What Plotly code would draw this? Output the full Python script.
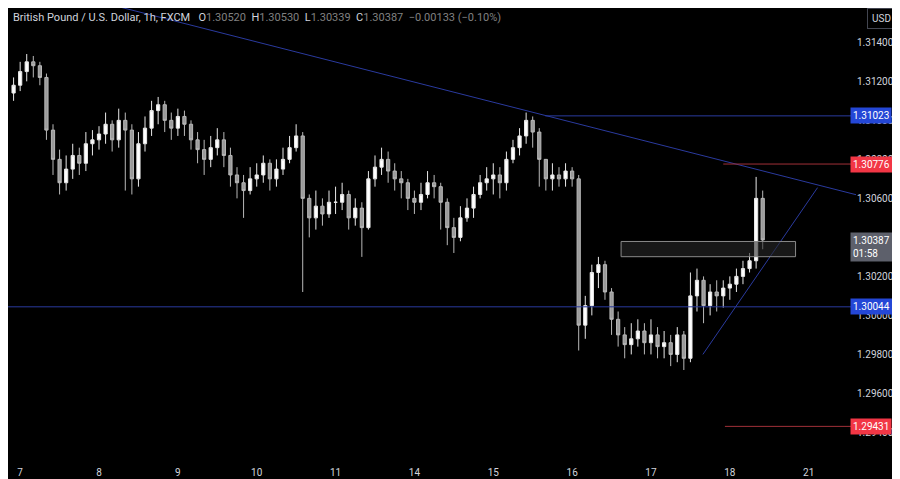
import plotly.graph_objects as go

# 2-hour candles, x = trading hours since the 7th (weekend removed)
closes = [1.3118,
    1.3125, 1.3130, 1.3128, 1.3122, 1.3095, 1.3080, 1.3068, 1.3075, 1.3082, 1.3078, 1.3088, 1.3090,
    1.3093, 1.3098, 1.3090, 1.3100, 1.3095, 1.3070, 1.3088, 1.3096, 1.3105, 1.3108, 1.3100, 1.3096,
    1.3102, 1.3098, 1.3090, 1.3085, 1.3080, 1.3086, 1.3090, 1.3082, 1.3072, 1.3068, 1.3064, 1.3070,
    1.3072, 1.3078, 1.3070, 1.3075, 1.3080, 1.3086, 1.3092, 1.3060, 1.3050, 1.3056, 1.3052, 1.3058,
    1.3058, 1.3062, 1.3050, 1.3055, 1.3045, 1.3070, 1.3076, 1.3080, 1.3074, 1.3070, 1.3068, 1.3060,
    1.3058, 1.3062, 1.3068, 1.3066, 1.3058, 1.3045, 1.3040, 1.3050, 1.3055, 1.3062, 1.3068, 1.3070,
    1.3072, 1.3068, 1.3080, 1.3086, 1.3092, 1.3100, 1.3094, 1.3080, 1.3070, 1.3072, 1.3070, 1.3074,
    1.3070, 1.2995, 1.3005, 1.3022, 1.3026, 1.3012, 1.2998, 1.2990, 1.2985, 1.2988, 1.2992, 1.2986,
    1.2990, 1.2984, 1.2986, 1.2980, 1.2990, 1.2978, 1.3010, 1.3018, 1.3005, 1.3012, 1.3010, 1.3014,
    1.3016, 1.3020, 1.3024, 1.3028, 1.3060, 1.30387]
highs = [1.3122,
    1.3130, 1.3134, 1.3133, 1.3130, 1.3124, 1.3098, 1.3085, 1.3082, 1.3088, 1.3086, 1.3094, 1.3095,
    1.3097, 1.3104, 1.3100, 1.3106, 1.3104, 1.3098, 1.3094, 1.3102, 1.3110, 1.3112, 1.3110, 1.3104,
    1.3106, 1.3105, 1.3100, 1.3094, 1.3090, 1.3092, 1.3096, 1.3094, 1.3086, 1.3076, 1.3072, 1.3076,
    1.3078, 1.3082, 1.3080, 1.3080, 1.3086, 1.3092, 1.3098, 1.3094, 1.3062, 1.3064, 1.3060, 1.3064,
    1.3066, 1.3068, 1.3064, 1.3060, 1.3058, 1.3074, 1.3082, 1.3086, 1.3084, 1.3078, 1.3074, 1.3070,
    1.3064, 1.3068, 1.3074, 1.3072, 1.3068, 1.3060, 1.3050, 1.3056, 1.3060, 1.3066, 1.3072, 1.3076,
    1.3078, 1.3076, 1.3084, 1.3090, 1.3096, 1.3104, 1.3102, 1.3096, 1.3080, 1.3078, 1.3076, 1.3078,
    1.3076, 1.3072, 1.3010, 1.3026, 1.3030, 1.3028, 1.3014, 1.3002, 1.2994, 1.2996, 1.2998, 1.2996,
    1.2998, 1.2994, 1.2992, 1.2990, 1.2994, 1.2992, 1.3022, 1.3024, 1.3020, 1.3016, 1.3018, 1.3018,
    1.3020, 1.3024, 1.3028, 1.3032, 1.3071, 1.3064]
lows = [1.3110,
    1.3115, 1.3120, 1.3122, 1.3118, 1.3090, 1.3072, 1.3062, 1.3064, 1.3070, 1.3072, 1.3074, 1.3082,
    1.3085, 1.3088, 1.3084, 1.3086, 1.3064, 1.3062, 1.3066, 1.3084, 1.3092, 1.3098, 1.3094, 1.3090,
    1.3092, 1.3092, 1.3085, 1.3078, 1.3072, 1.3076, 1.3082, 1.3076, 1.3066, 1.3060, 1.3050, 1.3062,
    1.3066, 1.3068, 1.3064, 1.3066, 1.3072, 1.3078, 1.3084, 1.3012, 1.3040, 1.3044, 1.3046, 1.3050,
    1.3052, 1.3054, 1.3044, 1.3046, 1.3030, 1.3044, 1.3066, 1.3072, 1.3068, 1.3064, 1.3060, 1.3054,
    1.3052, 1.3054, 1.3060, 1.3060, 1.3044, 1.3036, 1.3032, 1.3038, 1.3048, 1.3050, 1.3060, 1.3064,
    1.3062, 1.3060, 1.3064, 1.3078, 1.3082, 1.3088, 1.3086, 1.3066, 1.3064, 1.3064, 1.3066, 1.3066,
    1.3066, 1.2982, 1.2988, 1.3000, 1.3014, 1.3008, 1.2990, 1.2984, 1.2978, 1.2980, 1.2984, 1.2980,
    1.2980, 1.2978, 1.2978, 1.2974, 1.2976, 1.2972, 1.2976, 1.3002, 1.2996, 1.3000, 1.3002, 1.3004,
    1.3008, 1.3012, 1.3016, 1.3022, 1.3024, 1.30339]
opens = [1.3114] + closes[:-1]
hours = [-2 + 2 * i for i in range(len(closes))]

day_ticks = [0, 24, 48, 72, 96, 120, 144, 168, 192, 216, 240]
day_labels = ["7", "8", "9", "10", "11", "14", "15", "16", "17", "18", "21"]
price_ticks = [1.2940, 1.2960, 1.2980, 1.3000, 1.3020, 1.3040, 1.3060, 1.3080, 1.3100, 1.3120, 1.3140]

BLUE = "#2a3a9e"
RED = "#f23645"
TXT = "#d1d4dc"
DARKRED = "#a03038"

fig = go.Figure(go.Candlestick(
    x=hours, open=opens, high=highs, low=lows, close=closes,
    increasing=dict(line=dict(color="#e8e8e8", width=1), fillcolor="#ffffff"),
    decreasing=dict(line=dict(color="#b8b8b8", width=1), fillcolor="#9a9a9a"),
    whiskerwidth=0, showlegend=False, hoverinfo="skip",
))

lines = [
    (22.2, 1.31616, 254.6, 1.30618, BLUE),   # falling trendline
    (207.8, 1.2980, 242.7, 1.30655, BLUE),   # rising trendline
    (159.8, 1.31023, 254.4, 1.31023, BLUE),
    (-3.7, 1.30044, 254.4, 1.30044, BLUE),
    (214.0, 1.30776, 254.4, 1.30776, DARKRED),
    (214.5, 1.29431, 254.4, 1.29431, DARKRED),
]
for x0, y0, x1, y1, c in lines:
    fig.add_shape(type="line", x0=x0, y0=y0, x1=x1, y1=y1, line=dict(color=c, width=1))

fig.add_shape(type="rect", x0=182.9, x1=236.0, y0=1.30301, y1=1.30379,
              line=dict(color="#8a8a8a", width=1), fillcolor="rgba(40,40,40,0.6)")

labels = [(1.31023, "1.31023", "#2447d6"), (1.30776, "1.30776", RED),
          (1.30044, "1.30044", "#2447d6"), (1.29431, "1.29431", RED),
          (1.30352, "1.30387<br>01:58", "#5d606b")]
for y, t, c in labels:
    fig.add_annotation(x=1.0, xref="paper", y=y, yref="y", text=t, showarrow=False,
                       xanchor="left", xshift=-6, bgcolor=c, font=dict(color="white", size=10),
                       borderpad=2, align="left")

fig.add_annotation(x=0.003, y=0.998, xref="paper", yref="paper", xanchor="left", yanchor="top",
                   showarrow=False, font=dict(color=TXT, size=11),
                   text="British Pound / U.S. Dollar, 1h, FXCM   "
                        "O<span style='color:#808080'>1.30520</span>  "
                        "H<span style='color:#808080'>1.30530</span>  "
                        "L<span style='color:#808080'>1.30339</span>  "
                        "C<span style='color:#808080'>1.30387</span>  "
                        "<span style='color:#808080'>−0.00133 (−0.10%)</span>")
fig.add_annotation(x=1.03, y=1.0, xref="paper", yref="paper", xanchor="center", yanchor="top",
                   showarrow=False, text="USD", font=dict(color=TXT, size=10),
                   bordercolor="#434651", borderwidth=1, borderpad=4)

fig.update_layout(
    width=900, height=479, margin=dict(l=0, r=52, t=0, b=22),
    paper_bgcolor="#000000", plot_bgcolor="#000000",
    font=dict(family="Roboto", color=TXT, size=10),
    xaxis=dict(range=[-3.7, 254.4], tickvals=day_ticks, ticktext=day_labels,
               showgrid=False, zeroline=False, rangeslider=dict(visible=False),
               ticks="", tickfont=dict(size=10)),
    yaxis=dict(range=[1.29233, 1.31576], side="right", tickvals=price_ticks,
               tickformat=".5f", showgrid=False, zeroline=False, ticks=""),
)

fig.write_html("out.html")
